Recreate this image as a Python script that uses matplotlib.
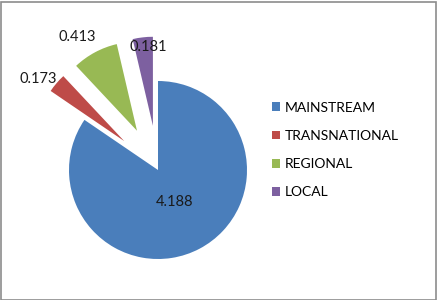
import matplotlib
matplotlib.use("Agg")
import matplotlib.pyplot as plt
from matplotlib.patches import Patch, Rectangle
import numpy as np

plt.rcParams['font.family'] = ['Lato', 'DejaVu Sans']

categories = ['MAINSTREAM', 'TRANSNATIONAL', 'REGIONAL', 'LOCAL']
values = [4.188, 0.173, 0.413, 0.181]
colors = ['#4A7EBB', '#BE4B48', '#98B954', '#7D60A0']
explode = [0, 0.5, 0.5, 0.5]
label_dist = [0.41, 1.69, 1.75, 1.39]
label_shift = [0, 3.5, 3.0, -2.0]  # degrees, where excel nudged the labels

W, H = 437, 300
R = 89.0            # pie radius in pixels
cx, cy = 158, 130   # pie centre in pixels from bottom-left

fig = plt.figure(figsize=(W / 100, H / 100), dpi=100)
ax = fig.add_axes([0, 0, 1, 1])

wedges, _ = ax.pie(values, colors=colors, explode=explode, startangle=90,
                   counterclock=False, wedgeprops=dict(linewidth=0))

ax.set_xlim(-cx / R, (W - cx) / R)
ax.set_ylim(-cy / R, (H - cy) / R)
ax.set_aspect('auto')
ax.axis('off')

for w, v, d, s in zip(wedges, values, label_dist, label_shift):
    mid = np.deg2rad((w.theta1 + w.theta2) / 2 + s)
    ax.text(d * np.cos(mid), d * np.sin(mid), f'{v:.3f}', ha='center',
            va='center', fontsize=10.5, color='#1a1a1a')

handles = [Patch(facecolor=c, edgecolor='none') for c in colors]
fig.legend(handles, categories, loc='center left',
           bbox_to_anchor=(272 / W, 1 - 150 / H), frameon=False,
           fontsize=10, handlelength=0.6, handleheight=0.6,
           handletextpad=0.35, labelspacing=1.17, borderpad=0,
           borderaxespad=0)

fig.patches.append(Rectangle((0.5 / W, 0.5 / H), 1 - 2 / W, 1 - 2 / H,
                             transform=fig.transFigure, fill=False,
                             edgecolor='#8c8c8c', linewidth=1.2))

fig.savefig('out.png', dpi=100)
